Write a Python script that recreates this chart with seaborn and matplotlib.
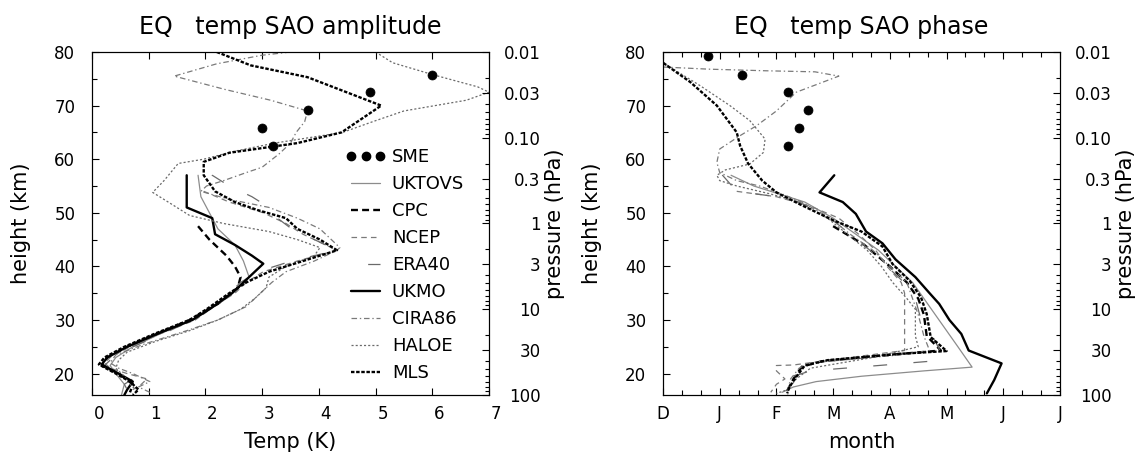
import numpy as np
import matplotlib
matplotlib.use("Agg")
import matplotlib.pyplot as plt
import seaborn as sns
from matplotlib.lines import Line2D
from matplotlib.ticker import FixedLocator, MultipleLocator
from matplotlib.transforms import ScaledTranslation

sns.set_theme(style="ticks")
plt.rcParams['font.family'] = ['DejaVu Sans']
plt.rcParams['lines.scale_dashes'] = False
for key in ["text.color", "axes.labelcolor", "xtick.color", "ytick.color", "axes.edgecolor"]:
    plt.rcParams[key] = "black"

# ---------------- data: amplitude panel (Temp K vs height km) ----------------
SME_Z = [79.2, 75.8, 72.6, 69.2, 65.8, 62.4]
SME_AMP = [np.nan, 6.0, 4.9, 3.8, 3.0, 3.2]
SME_PH = [0.8, 1.4, 2.2, 2.55, 2.4, 2.2]

UKTOVS_AMP_Z = [57, 53, 50, 47, 44, 41, 38, 36, 34, 32, 30, 27.5, 25, 23, 21.5, 20, 18, 16]
UKTOVS_AMP = [1.87, 1.92, 2.07, 2.22, 2.52, 2.67, 2.77, 2.57, 2.37, 2.07, 1.77, 1.22, 0.72, 0.42, 0.32, 0.42, 0.57, 0.52]

CPC_AMP_Z = [47.5, 45, 42, 40, 38, 36, 33, 30, 27.5, 25, 23, 21.5, 20, 18, 16.5]
CPC_AMP = [1.87, 2.07, 2.37, 2.52, 2.62, 2.57, 2.22, 1.72, 1.17, 0.62, 0.27, 0.17, 0.47, 0.72, 0.67]

NCEP_AMP_Z = [54, 52, 50, 48, 46, 44.5, 43, 41, 39, 37, 35, 33, 30, 27.5, 25, 23, 22, 21, 20, 19, 18, 17]
NCEP_AMP = [1.97, 2.42, 3.02, 3.42, 3.72, 4.02, 4.32, 3.62, 3.02, 2.72, 2.52, 2.22, 1.82, 1.22, 0.67, 0.32, 0.22,
            0.32, 0.62, 0.97, 0.87, 0.72]

ERA40_AMP_Z = [60, 57, 55, 53, 51, 49, 47, 45, 43, 41, 39, 37, 35, 32, 30, 27.5, 25, 23, 21.5, 20, 19, 18, 17, 16]
ERA40_AMP = [2.02, 2.12, 2.42, 2.82, 3.12, 3.27, 3.52, 3.92, 4.32, 3.52, 2.92, 2.62, 2.42, 2.07, 1.77, 1.27, 0.72,
             0.37, 0.22, 0.42, 0.72, 0.57, 0.62, 0.57]

UKMO_AMP_Z = [57, 51, 49, 46, 44, 42, 40.5, 37.5, 35, 32, 30, 27.5, 25, 23, 21.7, 20, 18.5, 17, 16]
UKMO_AMP = [1.67, 1.67, 2.12, 2.17, 2.52, 2.82, 3.02, 2.72, 2.47, 2.07, 1.77, 1.17, 0.62, 0.27, 0.17, 0.47, 0.72,
            0.62, 0.57]

CIRA86_AMP_Z = [80, 79.4, 77.8, 75.5, 73, 71, 69, 67, 65, 63, 61, 58.5, 57.5, 56, 55, 54, 52.5, 51, 49, 47, 45, 43.5,
                43, 41, 39, 37, 35, 32.5, 30, 28, 25.5, 23.5, 22, 21, 20, 18.5, 17.5, 16.5]
CIRA86_AMP = [3.5, 3.0, 2.2, 1.45, 2.35, 3.15, 3.8, 3.75, 3.6, 3.5, 3.3, 3.0, 2.72, 2.32, 2.02, 1.92, 2.42, 3.12,
              3.62, 4.02, 4.22, 4.37, 4.32, 3.92, 3.42, 3.17, 2.97, 2.72, 2.22, 1.67, 0.92, 0.42, 0.32, 0.47, 0.72,
              1.02, 0.82, 1.02]

HALOE_AMP_Z = [80, 78, 75.8, 73.5, 72.5, 71, 69, 67, 65, 63, 61.5, 60, 59.2, 56, 53.8, 51.5, 49.5, 48, 46.5, 45, 43.5,
               42, 40, 38, 36, 34, 32, 30, 28, 26, 24, 22.5, 21, 19.5, 18, 16.5]
HALOE_AMP = [5.0, 5.3, 6.0, 6.8, 7.0, 6.6, 5.5, 4.95, 4.42, 3.22, 2.52, 1.97, 1.52, 1.27, 1.07, 1.42, 1.72, 2.32,
             3.12, 3.62, 4.02, 3.92, 3.42, 3.12, 3.07, 2.87, 2.62, 2.22, 1.72, 1.12, 0.62, 0.47, 0.42, 0.57, 0.67, 0.82]

MLS_AMP_Z = [80, 77.5, 75.3, 70, 65, 63, 61.2, 59.5, 57, 54, 52, 50.5, 49, 47, 45, 43, 41, 39, 37, 35, 32, 30, 27.5,
             25, 23, 21.7, 20, 18.5, 17, 16]
MLS_AMP = [2.2, 2.8, 3.8, 5.1, 4.4, 3.62, 2.42, 1.97, 1.97, 2.17, 2.52, 2.92, 3.42, 3.62, 4.02, 4.32, 3.72, 3.12,
           2.72, 2.42, 2.02, 1.72, 1.12, 0.57, 0.22, 0.12, 0.42, 0.67, 0.82, 0.72]

# ---------------- data: phase panel (months after 1 Dec vs height km) ----------------
UKTOVS_PH_Z = [57, 55, 52, 49, 46, 43, 40, 37, 34, 31, 28, 25, 21.2, 20.5, 19.5, 18.5, 17.5, 16.5]
UKTOVS_PH = [1.2, 1.6, 2.5, 3.0, 3.4, 3.8, 4.1, 4.4, 4.6, 4.8, 5.0, 5.2, 5.45, 4.6, 3.5, 2.7, 2.3, 2.1]

CPC_PH_Z = [47.5, 44, 40, 37, 34, 31, 27, 24.3, 23.5, 22.3, 21.3, 19, 17, 16]
CPC_PH = [3.0, 3.55, 4.0, 4.3, 4.5, 4.6, 4.65, 4.9, 4.0, 2.8, 2.45, 2.3, 2.2, 2.2]

NCEP_PH_Z = [54, 53, 51.3, 49, 46, 43, 40, 37, 35, 30, 24.3, 23, 21.6, 21.5, 20.5, 19, 18, 16.5]
NCEP_PH = [1.3, 2.0, 2.58, 3.1, 3.45, 3.75, 3.95, 4.2, 4.26, 4.26, 4.26, 3.3, 2.3, 2.0, 2.0, 2.15, 2.0, 1.9]

ERA40_PH_Z = [60, 57, 54, 53, 52, 49, 46, 43, 40, 37, 34, 30, 27, 24, 22.5, 21.5, 20.5, 19.5, 18, 16.5]
ERA40_PH = [0.95, 1.05, 1.3, 2.0, 2.4, 2.95, 3.3, 3.65, 3.95, 4.25, 4.45, 4.55, 4.75, 4.9, 4.94, 3.8, 2.6, 2.3, 2.15, 2.1]

UKMO_PH_Z = [57, 53.8, 52, 49.8, 46.5, 44.3, 41.3, 38, 35, 33, 30, 27.4, 24.3, 21.9, 18.8, 16.3]
UKMO_PH = [3.02, 2.76, 3.17, 3.4, 3.58, 3.87, 4.1, 4.45, 4.7, 4.87, 5.05, 5.26, 5.39, 5.97, 5.84, 5.71]

CIRA86_PH_Z = [77.2, 76.8, 76.5, 76.3, 75.5, 72.5, 69, 66.25, 64.4, 61.9, 59.4, 57.5, 56, 55, 53.5, 52, 49, 46, 43,
               40, 37, 34, 31, 27, 24.3, 23.5, 22, 21, 19, 17, 16]
CIRA86_PH = [0.0, 0.8, 1.8, 2.68, 3.1, 2.35, 2.0, 1.65, 1.36, 1.0, 0.95, 1.0, 1.3, 1.7, 2.1, 2.45, 2.95, 3.3, 3.7,
             4.0, 4.3, 4.4, 4.5, 4.6, 4.7, 4.2, 2.6, 2.4, 2.25, 2.2, 2.2]

HALOE_PH_Z = [78, 73.75, 70, 67.2, 63.75, 61.25, 59.1, 58, 57, 56, 55, 53.5, 52, 49, 46, 43, 40, 37, 34, 32, 27,
              25, 23, 21, 19, 17, 16.3]
HALOE_PH = [0.0, 0.65, 1.18, 1.53, 1.8, 1.77, 1.53, 1.1, 0.95, 1.0, 1.3, 1.9, 2.4, 2.9, 3.25, 3.6, 3.85, 4.05, 4.3,
            4.45, 4.45, 4.5, 3.7, 2.6, 2.35, 2.2, 2.0]

MLS_PH_Z = [80, 78, 74.4, 70, 65, 62.5, 59.2, 56, 53.8, 51.6, 48.6, 46.5, 43.7, 40.4, 37.3, 34.2, 31.1, 26.8, 24.2,
            23.7, 22.5, 21.5, 19.4, 17.5, 16.3]
MLS_PH = [-0.3, 0.0, 0.48, 0.95, 1.3, 1.36, 1.5, 1.75, 2.0, 2.41, 3.0, 3.5, 3.87, 4.05, 4.35, 4.55, 4.65, 4.72, 5.0,
          4.2, 2.9, 2.5, 2.35, 2.23, 2.19]

LABELS = ["UKTOVS", "CPC", "NCEP", "ERA40", "UKMO", "CIRA86", "HALOE", "MLS"]
TEMP_TICKS = [0, 1, 2, 3, 4, 5, 6, 7]
MONTH_LABELS = ["D", "J", "F", "M", "A", "M", "J", "J"]
P_LABELS = ["100", "30", "10", "3", "1", "0.3", "0.10", "0.03", "0.01"]
P_VALUES = [100, 30, 10, 3, 1, 0.3, 0.1, 0.03, 0.01]

# ---------------- styles ----------------
STYLES = {
    "UKTOVS": dict(color="#8c8c8c", lw=0.9, ls="-"),
    "CPC": dict(color="black", lw=1.7, ls=(0, (5, 3))),
    "NCEP": dict(color="#7a7a7a", lw=0.9, ls=(0, (4, 3))),
    "ERA40": dict(color="#6a6a6a", lw=0.9, ls=(17, (10, 19))),
    "UKMO": dict(color="black", lw=1.7, ls="-"),
    "CIRA86": dict(color="#7a7a7a", lw=0.9, ls=(0, (4, 2, 1, 2))),
    "HALOE": dict(color="#6a6a6a", lw=0.9, ls=(0, (1.5, 1.5))),
    "MLS": dict(color="black", lw=1.7, ls=(0, (2.5, 1.2))),
}

AMP_SERIES = {
    "UKTOVS": (UKTOVS_AMP, UKTOVS_AMP_Z), "CPC": (CPC_AMP, CPC_AMP_Z), "NCEP": (NCEP_AMP, NCEP_AMP_Z),
    "ERA40": (ERA40_AMP, ERA40_AMP_Z), "UKMO": (UKMO_AMP, UKMO_AMP_Z), "CIRA86": (CIRA86_AMP, CIRA86_AMP_Z),
    "HALOE": (HALOE_AMP, HALOE_AMP_Z), "MLS": (MLS_AMP, MLS_AMP_Z),
}
PH_SERIES = {
    "UKTOVS": (UKTOVS_PH, UKTOVS_PH_Z), "CPC": (CPC_PH, CPC_PH_Z), "NCEP": (NCEP_PH, NCEP_PH_Z),
    "ERA40": (ERA40_PH, ERA40_PH_Z), "UKMO": (UKMO_PH, UKMO_PH_Z), "CIRA86": (CIRA86_PH, CIRA86_PH_Z),
    "HALOE": (HALOE_PH, HALOE_PH_Z), "MLS": (MLS_PH, MLS_PH_Z),
}

FS = 12
LFS = 15
W, H = 1146, 458
fig = plt.figure(figsize=(W / 100, H / 100), dpi=100)
AX_TOP, AX_BOT, AX_W = 52, 395, 397
axL = fig.add_axes([92 / W, 1 - AX_BOT / H, AX_W / W, (AX_BOT - AX_TOP) / H])
axR = fig.add_axes([663 / W, 1 - AX_BOT / H, AX_W / W, (AX_BOT - AX_TOP) / H])


def draw(ax, series, sme_x):
    for name in LABELS:
        x, z = series[name]
        st = STYLES[name]
        sns.lineplot(x=x, y=z, sort=False, estimator=None, ax=ax, color=st["color"],
                     linewidth=st["lw"], linestyle=st["ls"], legend=False)
    sns.scatterplot(x=sme_x, y=SME_Z, ax=ax, color="black", s=42, edgecolor="black",
                    linewidth=0.5, zorder=6, legend=False)


def style_axes(ax):
    ax.set_ylim(16, 80)
    ax.yaxis.set_major_locator(FixedLocator([20, 30, 40, 50, 60, 70, 80]))
    ax.yaxis.set_minor_locator(FixedLocator([25, 35, 45, 55, 65, 75]))
    ax.tick_params(axis="both", which="both", direction="in", top=True, right=False,
                   width=0.8, labelsize=FS, color="black")
    ax.tick_params(axis="both", which="major", length=5)
    ax.tick_params(axis="both", which="minor", length=3.5)
    ax.tick_params(axis="y", pad=12)
    ax.tick_params(axis="x", pad=7)
    for sp in ax.spines.values():
        sp.set_visible(True)
        sp.set_linewidth(0.8)
        sp.set_color("black")
    ax.set_ylabel("height (km)", fontsize=LFS, labelpad=17)

    ax2 = ax.twinx()
    ax2.set_ylim(16, 80)
    zp = [16 * np.log10(1000 / p) for p in P_VALUES]
    ax2.set_yticks(zp, labels=P_LABELS)
    minor = []
    for dec in [0.01, 0.1, 1, 10]:
        for k in range(2, 10):
            zz = 16 * np.log10(1000 / (k * dec))
            if 16 <= zz <= 80:
                minor.append(zz)
    ax2.yaxis.set_minor_locator(FixedLocator(minor))
    ax2.tick_params(axis="y", which="both", direction="in", width=0.8, labelsize=FS, pad=37)
    ax2.tick_params(axis="y", which="major", length=5)
    ax2.tick_params(axis="y", which="minor", length=3)
    for lbl in ax2.get_yticklabels():
        lbl.set_horizontalalignment("right")
    ax2.set_ylabel("pressure (hPa)", fontsize=LFS, labelpad=3)
    ax2.grid(False)
    for sp in ax2.spines.values():
        sp.set_linewidth(0.8)
        sp.set_color("black")
    return ax2


draw(axL, AMP_SERIES, SME_AMP)
draw(axR, PH_SERIES, SME_PH)

# left panel axes
axL.set_xlim(0, 7)
axL.set_xticks(TEMP_TICKS, labels=[str(t) for t in TEMP_TICKS])
style_axes(axL)
shift = ScaledTranslation(7 / 100, 0, fig.dpi_scale_trans)
for lbl in axL.get_xticklabels():
    lbl.set_transform(lbl.get_transform() + shift)
axL.set_xlabel("Temp (K)", fontsize=LFS, labelpad=7)
axL.set_title("EQ   temp SAO amplitude", fontsize=17, pad=13)

# right panel axes
axR.set_xlim(0, 7)
axR.set_xticks(range(8), labels=MONTH_LABELS)
axR.xaxis.set_minor_locator(MultipleLocator(1 / 3))
style_axes(axR)
axR.set_xlabel("month", fontsize=LFS, labelpad=7)
axR.set_title("EQ   temp SAO phase", fontsize=17, pad=13)

# legend in amplitude panel
handles = [Line2D([], [], marker="o", ls="none", color="black", markersize=6)]
for name in LABELS:
    st = STYLES[name]
    handles.append(Line2D([], [], color=st["color"], lw=st["lw"], ls=st["ls"]))
axL.legend(handles, ["SME"] + LABELS, loc="upper left", bbox_to_anchor=(0.64, 0.72),
           frameon=False, numpoints=3, handlelength=2.2, handletextpad=0.33,
           labelspacing=0.5, fontsize=13, borderaxespad=0, borderpad=0)

fig.savefig("out.png", dpi=100)
